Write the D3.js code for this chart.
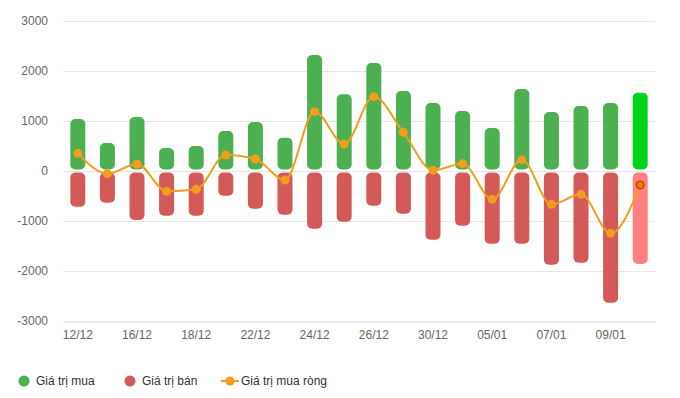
<!DOCTYPE html>
<html>
<head>
<meta charset="utf-8">
<script src="https://cdn.jsdelivr.net/npm/d3@7/dist/d3.min.js"></script>
<style>
  body { margin: 0; background: #fff; }
  svg { font-family: "Liberation Sans", Arial, sans-serif; }
</style>
</head>
<body>
<div id="chart"></div>
<script>
const width = 680;
const height = 398;

// phien giao dich
var dates = ["12/12","15/12","16/12","17/12","18/12","19/12","22/12","23/12","24/12","25/12",
             "26/12","29/12","30/12","31/12","05/01","06/01","07/01","08/01","09/01","12/01"];
var shownLabels = ["12/12","16/12","18/12","22/12","24/12","26/12","30/12","05/01","07/01","09/01"];

// gia tri mua / ban / mua rong (ty dong)
var buyValues  = [1040, 560, 1080, 460, 500, 800, 980, 667, 2320, 1533,
                  2160, 1600, 1360, 1200, 860, 1640, 1180, 1300, 1360, 1567];
var sellValues = [-713, -633, -980, -893, -893, -493, -753, -873, -1153, -1013,
                  -693, -853, -1373, -1093, -1453, -1453, -1873, -1833, -2633, -1860];
var netValues  = [353, -53, 140, -407, -367, 320, 240, -180, 1187, 540,
                  1487, 773, 13, 147, -567, 227, -667, -467, -1247, -280];

var yTicks = [3000, 2000, 1000, 0, -1000, -2000, -3000];

var margin = {top: 21, right: 25, bottom: 77, left: 63};

var x = d3.scaleBand()
    .domain(dates)
    .range([margin.left, width - margin.right]);

var y = d3.scaleLinear()
    .domain([-3000, 3000])
    .range([height - margin.bottom, margin.top]);

var svg = d3.select("#chart")
    .append("svg")
    .attr("width", width)
    .attr("height", height);

// grid lines
svg.append("g")
    .selectAll("line")
    .data(yTicks.filter(function(d) { return d !== -3000; }))
    .enter().append("line")
    .attr("x1", margin.left)
    .attr("x2", width - margin.right)
    .attr("y1", function(d) { return Math.round(y(d)) + 0.5; })
    .attr("y2", function(d) { return Math.round(y(d)) + 0.5; })
    .style("stroke", "#e6e6e6");

// y axis labels
var yAxis = svg.append("g")
    .attr("transform", "translate(" + margin.left + ",0)")
    .call(d3.axisLeft(y).tickValues(yTicks).tickSize(0).tickPadding(15)
        .tickFormat(function(d) { return String(d); }));
yAxis.select(".domain").remove();
yAxis.selectAll("text")
    .style("font-family", "Liberation Sans, Arial, sans-serif")
    .style("font-size", "12px")
    .style("fill", "#666");

// x axis
var xAxis = svg.append("g")
    .attr("transform", "translate(0," + (Math.round(y(-3000)) + 0.5) + ")")
    .call(d3.axisBottom(x).tickValues(shownLabels).tickSize(0).tickPadding(9));
xAxis.select(".domain").style("stroke", "#ccd6eb");
xAxis.selectAll("text")
    .style("font-family", "Liberation Sans, Arial, sans-serif")
    .style("font-size", "12px")
    .style("fill", "#666");

var barW = 15;
var last = dates.length - 1;

// buy bars
svg.append("g")
    .selectAll("rect")
    .data(buyValues)
    .enter().append("rect")
    .attr("x", function(d, i) { return x(dates[i]) + x.bandwidth() / 2 - barW / 2; })
    .attr("y", function(d) { return y(d); })
    .attr("width", barW)
    .attr("height", function(d) { return y(0) - 1.5 - y(d); })
    .attr("rx", 5)
    .style("fill", function(d, i) { return i === last ? "#00d41a" : "#4caf50"; });

// sell bars
svg.append("g")
    .selectAll("rect")
    .data(sellValues)
    .enter().append("rect")
    .attr("x", function(d, i) { return x(dates[i]) + x.bandwidth() / 2 - barW / 2; })
    .attr("y", function(d) { return y(0) + 1.5; })
    .attr("width", barW)
    .attr("height", function(d) { return y(d) - y(0) - 1.5; })
    .attr("rx", 5)
    .style("fill", function(d, i) { return i === last ? "#ff8080" : "#d45a5a"; });

// net line
var line = d3.line()
    .x(function(d, i) { return x(dates[i]) + x.bandwidth() / 2; })
    .y(function(d) { return y(d); })
    .curve(d3.curveMonotoneX);

svg.append("path")
    .datum(netValues)
    .attr("d", line)
    .style("fill", "none")
    .style("stroke", "#f39c1e")
    .style("stroke-width", 2);

svg.append("g")
    .selectAll("circle")
    .data(netValues)
    .enter().append("circle")
    .attr("cx", function(d, i) { return x(dates[i]) + x.bandwidth() / 2; })
    .attr("cy", function(d) { return y(d); })
    .attr("r", function(d, i) { return i === last ? 4 : 4.5; })
    .style("fill", function(d, i) { return i === last ? "#ff7400" : "#f39c1e"; })
    .style("stroke", function(d, i) { return i === last ? "#8a3d00" : "none"; })
    .style("stroke-width", 1);

// legend
var legend = svg.append("g").attr("transform", "translate(0,381)");

var legendItems = [
    {name: "Giá trị mua", color: "#4caf50", type: "dot", x: 24},
    {name: "Giá trị bán", color: "#d45a5a", type: "dot", x: 130},
    {name: "Giá trị mua ròng", color: "#f39c1e", type: "line", x: 230}
];

legendItems.forEach(function(item) {
    if (item.type === "dot") {
        legend.append("circle")
            .attr("cx", item.x)
            .attr("cy", 0)
            .attr("r", 5.5)
            .style("fill", item.color);
    } else {
        legend.append("line")
            .attr("x1", item.x - 9)
            .attr("x2", item.x + 9)
            .attr("y1", 0)
            .attr("y2", 0)
            .style("stroke", item.color)
            .style("stroke-width", 2);
        legend.append("circle")
            .attr("cx", item.x)
            .attr("cy", 0)
            .attr("r", 4.5)
            .style("fill", item.color);
    }
    legend.append("text")
        .attr("x", item.type === "dot" ? item.x + 12 : item.x + 11)
        .attr("y", 0)
        .attr("dy", "0.35em")
        .style("font-size", "12px")
        .style("fill", "#333")
        .text(item.name);
});
</script>
</body>
</html>
